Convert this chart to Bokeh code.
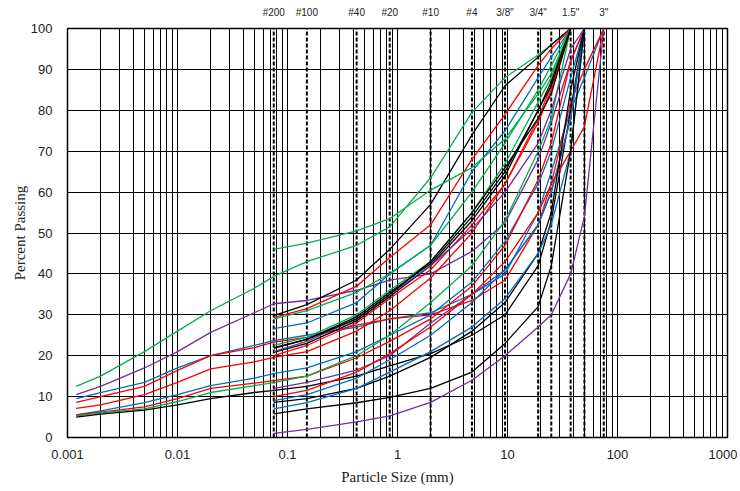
from bokeh.plotting import figure
from bokeh.models import FixedTicker, LogAxis, Range1d
from bokeh.embed import file_html
from bokeh.resources import INLINE

# ---- data ----
SIEVE_MM = [0.075, 0.15, 0.425, 0.85, 2.0, 4.75, 9.5, 19.0, 25.0, 37.5, 50.0, 75.0]
HYDRO_MM = [0.0012, 0.002, 0.005, 0.01, 0.02, 0.05]

SIEVE_LABEL_MM = [0.075, 0.15, 0.425, 0.85, 2.0, 4.75, 9.5, 19.0, 37.5, 75.0]
SIEVE_LABELS = ["#200", "#100", "#40", "#20", "#10", "#4", '3/8"', '3/4"', '1.5"', '3"']
SIEVE_LINES_MM = [0.075, 0.15, 0.425, 0.85, 2.0, 4.75, 9.5, 19.0, 25.0, 37.5, 50.0, 75.0]

X_TICKS = [0.001, 0.01, 0.1, 1, 10, 100, 1000]
X_TICK_LABELS = ["0.001", "0.01", "0.1", "1", "10", "100", "1000"]
Y_TICKS = [0, 10, 20, 30, 40, 50, 60, 70, 80, 90, 100]

# fine-grained samples (hydrometer + sieve), percent passing
fine_green = [12.5, 15, 21, 26, 31, 36.5, 39.4, 43, 47, 51.5, 63.5, 79.5, 88, 93.5, 96, 100]
fine_purple = [10.5, 12.5, 17, 21, 25.7, 30.5, 32.7, 33.5, 36, 38.5, 40, 45.5, 52.5, 68, 77, 92, 100]
fine_blue1 = [9.5, 11, 13.5, 17, 20, 22.5, 23.7, 25, 27, 29, 30.5, 35, 40, 55, 65, 80, 88, 100]
fine_red1 = [8.6, 10, 12.5, 16.4, 20, 22, 23.3, 24.5, 27.5, 29, 30, 33.5, 38.5, 52, 62, 82, 90, 100]
fine_red2 = [7.1, 8, 10.5, 13.5, 16.8, 18.5, 19.6, 21, 26, 31, 39, 50, 62, 78, 86, 100]
fine_blue2 = [5.5, 6.5, 8.5, 10.5, 12.7, 14.5, 15.6, 17, 21, 25, 30, 38, 48, 62, 70, 88, 100]
fine_red3 = [5.5, 6.2, 7.5, 9.5, 12, 13.3, 13.9, 15, 19.5, 23.5, 29, 37, 47, 63, 72, 92, 100]
fine_green2 = [5.3, 6, 7, 8.8, 11, 12.7, 13.4, 15, 20, 25, 33, 42, 53, 70, 78, 100]
fine_black = [5.0, 5.7, 6.7, 8, 9.5, 11, 11.5, 12.5, 15, 17.5, 20.5, 25, 30, 42, 53, 80, 100]

# coarse samples (sieve only), percent passing
black1 = [29.8, 32.5, 38.5, 46, 57, 74, 86, 93, 96, 100]
red1 = [29.3, 31.5, 37, 44, 52, 68, 79, 91, 95, 100]
blue1 = [26.6, 28, 33, 40, 47, 65, 75, 88, 93, 100]
green_a = [46, 47.5, 50.5, 53.5, 60.5, 66, 73, 84, 89, 100]
green3 = [29, 31, 35.5, 40, 47, 60, 72, 85, 91, 100]
green2 = [22.5, 24.5, 30, 36, 43, 55, 67, 82, 88, 100]
black2 = [21.8, 24, 29.5, 35.5, 42.5, 54, 65, 80, 86, 100]
black3 = [20.8, 23, 28.5, 34.5, 42, 53, 64, 80, 87, 100]
red2 = [20, 22.5, 28, 34, 41, 52, 62, 77, 85, 100]
purple2 = [21, 23.5, 29, 35, 42, 51, 60, 72, 80, 95, 100]
black4 = [22, 24, 29, 35, 43, 55, 66, 78, 84, 100]
purple4 = [12, 13.5, 16.5, 20, 28, 35, 41, 52, 60, 78, 100]
red3 = [10, 11.5, 16, 20.5, 27, 35, 43, 55, 62, 70, 76, 100]
blue3 = [9, 10.5, 14.5, 19, 25, 33, 41, 52, 60, 78, 100]
black5 = [8.6, 9.5, 12, 15, 19.6, 26, 33, 45, 55, 85, 100]
blue4 = [7, 8.5, 12, 16, 21, 27, 34, 45, 52, 70, 100]
black6 = [5.8, 7, 8.5, 9.8, 12, 16, 23, 32, 42, 70, 100]
purple3 = [1, 2, 3.8, 5.3, 8.6, 14, 20, 27, 30, 40, 54, 100]

GREEN, PURPLE, BLUE, RED, BLACK = "#00b050", "#7030a0", "#0070c0", "#ff0000", "#000000"

fine_series = [
    (fine_green, GREEN), (fine_purple, PURPLE), (fine_blue1, BLUE), (fine_red1, RED),
    (fine_red2, RED), (fine_blue2, BLUE), (fine_red3, RED), (fine_green2, GREEN),
    (fine_black, BLACK),
]
coarse_series = [
    (black1, BLACK), (red1, RED), (blue1, BLUE), (green_a, GREEN), (green3, GREEN),
    (green2, GREEN), (black2, BLACK), (black3, BLACK), (red2, RED), (purple2, PURPLE),
    (black4, BLACK), (purple4, PURPLE), (red3, RED), (blue3, BLUE), (black5, BLACK),
    (blue4, BLUE), (black6, BLACK), (purple3, PURPLE),
]

# ---- figure ----
p = figure(frame_width=660, frame_height=409, x_axis_type="log",
           x_range=Range1d(0.001, 1000), y_range=Range1d(0, 100),
           output_backend="svg", toolbar_location=None,
           min_border_left=67, min_border_right=10, min_border_top=28, min_border_bottom=50)
p.background_fill_color = "white"
p.border_fill_color = "white"
p.outline_line_color = "black"
p.outline_line_width = 1.5

grid_x = [m * 10 ** e for e in range(-3, 3) for m in range(1, 10)] + [1000]
p.xgrid.ticker = FixedTicker(ticks=grid_x)
p.xgrid.grid_line_color = "black"
p.xgrid.grid_line_width = 1
p.ygrid.ticker = FixedTicker(ticks=Y_TICKS)
p.ygrid.grid_line_color = "black"
p.ygrid.grid_line_width = 1

# sieve lines
p.segment(x0=SIEVE_LINES_MM, y0=[0] * len(SIEVE_LINES_MM), x1=SIEVE_LINES_MM,
          y1=[100] * len(SIEVE_LINES_MM), line_color="black", line_width=2, line_dash="4 2")

for vals, col in fine_series:
    xs = (HYDRO_MM + SIEVE_MM)[:len(vals)]
    p.line(xs, vals, line_color=col, line_width=1.3)
for vals, col in coarse_series:
    xs = SIEVE_MM[:len(vals)]
    p.line(xs, vals, line_color=col, line_width=1.3)

# axes
xa = p.xaxis[0]
xa.ticker = FixedTicker(ticks=X_TICKS)
xa.major_label_overrides = {t: l for t, l in zip(X_TICKS, X_TICK_LABELS)}
xa.axis_label = "Particle Size (mm)"
ya = p.yaxis[0]
ya.ticker = FixedTicker(ticks=Y_TICKS)
ya.axis_label = "Percent Passing"
for ax in (xa, ya):
    ax.axis_line_color = None
    ax.major_tick_line_color = None
    ax.minor_tick_line_color = None
    ax.major_label_text_font = "Liberation Sans"
    ax.major_label_text_font_size = "13px"
    ax.major_label_text_color = "#222222"
    ax.axis_label_text_font = "Liberation Serif"
    ax.axis_label_text_font_size = "15px"
    ax.axis_label_text_font_style = "normal"
    ax.axis_label_text_color = "#222222"
xa.major_label_standoff = 6
xa.axis_label_standoff = 7
ya.major_label_standoff = 9
ya.axis_label_standoff = 0

top = LogAxis(ticker=FixedTicker(ticks=SIEVE_LABEL_MM),
              major_label_overrides={t: l for t, l in zip(SIEVE_LABEL_MM, SIEVE_LABELS)})
top.axis_line_color = None
top.major_tick_line_color = None
top.minor_tick_line_color = None
top.major_label_text_font = "Liberation Sans"
top.major_label_text_font_size = "10px"
top.major_label_text_color = "#222222"
top.major_label_standoff = 5
p.add_layout(top, "above")

open("out.html", "w").write(file_html(p, INLINE))
